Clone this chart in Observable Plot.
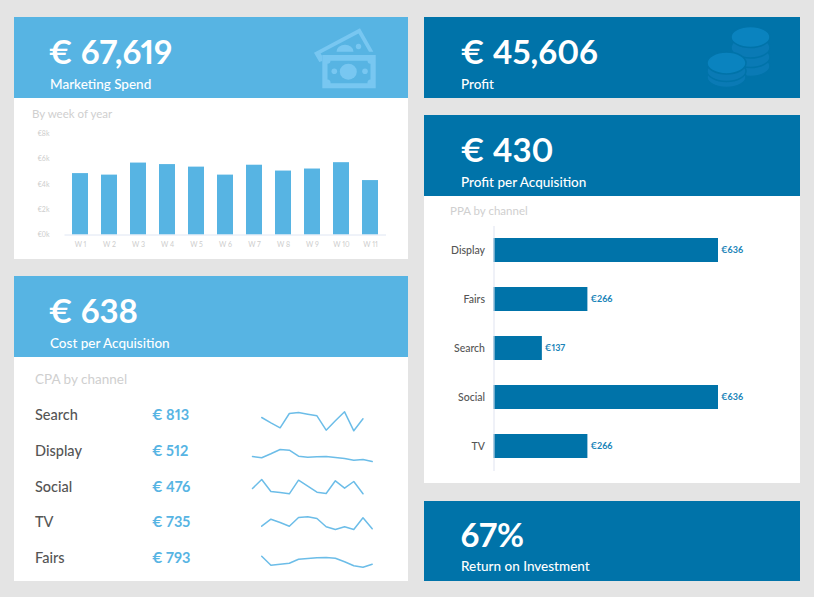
<!DOCTYPE html>
<html><head><meta charset="utf-8">
<script src="https://cdn.jsdelivr.net/npm/d3@7"></script>
<script src="https://cdn.jsdelivr.net/npm/@observablehq/plot@0.6"></script>
<style>
html,body{margin:0;padding:0;background:#e4e4e4;width:814px;height:597px;overflow:hidden;font-family:Lato,sans-serif;font-feature-settings:"pnum" 1;font-variant-numeric:proportional-nums}
.p{position:absolute}
.t{position:absolute;white-space:nowrap;line-height:1;transform:translateY(-50%)}
.big{font-size:33px;font-weight:700;color:#fff;font-feature-settings:"pnum" 1;font-variant-numeric:proportional-nums}
.sub{font-size:13.500px;font-weight:500;color:#fff}
svg{position:absolute;overflow:visible}
</style></head><body>
<script>
const weeks=["W 1","W 2","W 3","W 4","W 5","W 6","W 7","W 8","W 9","W 10","W 11"];
const weekSpend=[4840,4720,5670,5550,5350,4720,5500,5040,5200,5700,4290];
const ppaChannels=["Display","Fairs","Search","Social","TV"];
const ppaValues=[636,266,137,636,266];
const cpaChannels=["Search","Display","Social","TV","Fairs"];
const cpaValues=["€ 813","€ 512","€ 476","€ 735","€ 793"];
const sparkSearch=[null,22,16.7,11.7,26,27,25.3,23.7,9.3,18.7,27.7,8.7,20.7,null];
const sparkDisplay=[19,17.7,21.7,26,25.3,19.3,18.3,18.7,19,18,17,15.3,16,14];
const sparkSocial=[23,32,20,19,17.7,31.3,25.3,19.3,18,30.7,23.3,30,17.7,null];
const sparkTV=[null,21.3,28.3,25,21.3,30,30.7,29,20.7,18,20.7,18,29.7,18.7];
const sparkFairs=[null,27.3,18.3,19.3,20.3,24.3,25,25.7,26,25.3,21.7,17.7,16.3,19.3];

const LIGHT="#57b4e3",DARK="#0073a9";
const body=document.body;
function box(x,y,w,h,c){const d=document.createElement("div");d.className="p";d.style.cssText=`left:${x}px;top:${y}px;width:${w}px;height:${h}px;background:${c}`;body.append(d);}
function txt(s,x,y,css,cls){const d=document.createElement("div");d.className="t "+(cls||"");d.textContent=s;d.style.cssText=`left:${x}px;top:${y}px;${css||""}`;body.append(d);}
function place(svg,x,y){svg.style.left=x+"px";svg.style.top=y+"px";body.append(svg);}

box(14,17,393.500,81,LIGHT);box(14,98,393.500,161,"#fff");
box(14,276,393.500,81,LIGHT);box(14,357,393.500,224,"#fff");
box(424,17,376,81,DARK);
box(424,115,376,81,DARK);box(424,196,376,287,"#fff");
box(424,500.500,376,80.500,DARK);

txt("€ 67,619",48.5,51,"","big");txt("Marketing Spend",50,84.5,"","sub");
txt("€ 638",48.5,310,"","big");txt("Cost per Acquisition",50,343.5,"","sub");
txt("€ 45,606",460.5,51,"","big");txt("Profit",461,84.5,"","sub");
txt("€ 430",460.5,149,"","big");txt("Profit per Acquisition",461,182.5,"","sub");
txt("67%",460.5,534,"","big");txt("Return on Investment",461,567,"","sub");
txt("By week of year",32,113.5,"font-size:11.500px;color:#cfcfcf");
txt("CPA by channel",35,379.5,"font-size:13.500px;color:#cfcfcf");
txt("PPA by channel",450,210.5,"font-size:11.500px;color:#cfcfcf");

// Decorative icons
const ns=document.createElement("div");
ns.innerHTML=`<svg width="814" height="597" style="left:0;top:0;pointer-events:none">
<g fill="#78c7f1">
<path fill-rule="evenodd" d="M314 52.700 L360 28.300 L373.300 51.700 L369 51.700 L358.500 33.500 L320.500 53.500 L322.300 56 L322.300 61 L319.300 62Z"/>
<path d="M336.500 51.700a8.500 7 0 0 1 17 0Z"/>
<circle cx="358.500" cy="46.500" r="2.700"/>
<path fill-rule="evenodd" d="M322.300 55H375.700V88.300H322.300ZM330.500 60.700a3 3 0 0 1-3 3V79.500a3 3 0 0 1 3 3.800H367.500a3 3 0 0 1 3-3.800V63.700a3 3 0 0 1-3-3Z"/>
<ellipse cx="348.300" cy="71.700" rx="8.500" ry="8"/><circle cx="334.300" cy="71.300" r="2.800"/><circle cx="365" cy="71.300" r="2.800"/>
</g>
<g stroke="${DARK}" stroke-width="1.500">
<ellipse cx="750.500" cy="66" rx="19.500" ry="10.500" fill="#0a7ab5"/>
<ellipse cx="750.500" cy="57" rx="19.500" ry="10.500" fill="#0a7ab5"/>
<ellipse cx="750.500" cy="47.500" rx="19.500" ry="10.500" fill="#0a7ab5"/>
<ellipse cx="750.500" cy="37" rx="19.500" ry="10.500" fill="#0a83bf"/>
<ellipse cx="726.500" cy="77" rx="19.500" ry="10.500" fill="#0a7ab5"/>
<ellipse cx="726.500" cy="71" rx="19.500" ry="10.500" fill="#0a7ab5"/>
<ellipse cx="726.500" cy="63" rx="19.500" ry="11" fill="#0a83bf"/>
</g></svg>`;
body.append(ns.firstChild);

// Weekly spend bars
const weekRows=weeks.map((w,i)=>({w,v:weekSpend[i]}));
place(Plot.plot({width:394,height:139,marginLeft:50.500,marginRight:22,marginTop:13,marginBottom:24.500,
  style:{background:"transparent",fontFamily:"Lato,sans-serif"},
  x:{domain:weeks,paddingInner:.45,paddingOuter:.225},
  y:{domain:[0,8000]},
  marks:[
    Plot.axisX({tickSize:0,tickPadding:7,color:"#cdcdcd",fontSize:7,label:null}),
    Plot.axisY({ticks:[0,2000,4000,6000,8000],tickFormat:d=>"€"+d/1000+"k",tickSize:0,tickPadding:15.500,color:"#cdcdcd",fontSize:7,label:null}),
    Plot.barY(weekRows,{x:"w",y:"v",fill:LIGHT}),
    Plot.ruleY([0],{stroke:"#dfe6f3",strokeWidth:1})
  ]}),14,120);

// PPA bars
const ppaRows=ppaChannels.map((c,i)=>({c,v:ppaValues[i]}));
place(Plot.plot({width:376,height:287,marginLeft:69.500,marginRight:82,marginTop:30,marginBottom:12,
  style:{background:"transparent",fontFamily:"Lato,sans-serif"},
  x:{domain:[0,636],axis:null},
  y:{domain:ppaChannels,paddingInner:.51,paddingOuter:.255,label:null},
  marks:[
    Plot.axisY({tickSize:0,tickPadding:9,color:"#555",fontSize:10.500,fontWeight:500,label:null}),
    Plot.barX(ppaRows,{y:"c",x:"v",fill:DARK}),
    Plot.ruleX([0],{stroke:"#dfe3f0",strokeWidth:1}),
    Plot.text(ppaRows,{y:"c",x:"v",text:d=>"€"+d.v,textAnchor:"start",dx:2.500,fill:"#1b84b8",fontSize:9,fontWeight:700})
  ]}),424,196);

// CPA rows
const rowY=[415,451,487,522,558];
cpaChannels.forEach((c,i)=>{
  txt(c,35,rowY[i],"font-size:14.500px;font-weight:500;color:#555");
  txt(cpaValues[i],152,rowY[i],`font-size:14.500px;font-weight:700;color:${LIGHT}`);
});

// Sparklines
const sparks=[sparkSearch,sparkDisplay,sparkSocial,sparkTV,sparkFairs];
const sparkRows=sparks.flatMap((s,j)=>s.map((v,i)=>({c:cpaChannels[j],i,v})).filter(d=>d.v!=null));
place(Plot.plot({width:150,height:180,marginLeft:12,marginRight:18.300,marginTop:0,marginBottom:0,
  style:{background:"transparent"},
  x:{domain:[0,13],axis:null},
  y:{domain:[0,36],axis:null},
  fy:{domain:cpaChannels,axis:null,padding:0},
  marks:[Plot.lineY(sparkRows,{x:"i",y:"v",fy:"c",stroke:"#6cbde8",strokeWidth:1.500,curve:"linear"})]
}),240,403.330);
</script>
</body></html>
